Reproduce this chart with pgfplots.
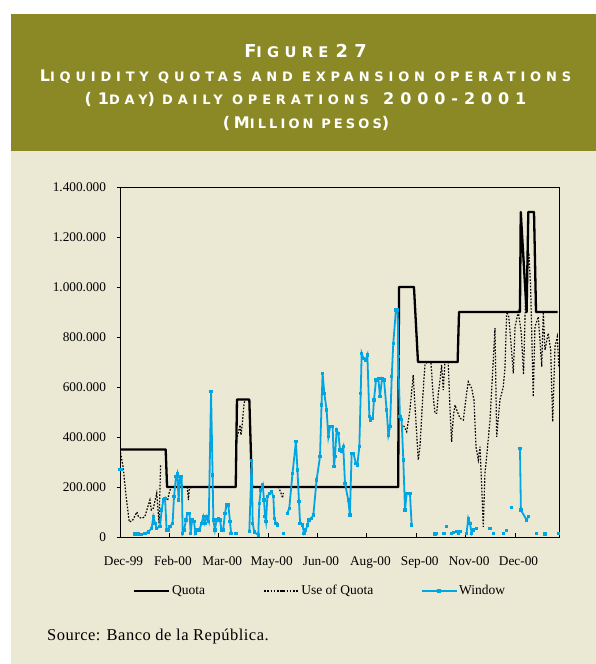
\documentclass[border=0pt]{standalone}
\usepackage{fontspec}
\setmainfont{Liberation Serif}
\newfontfamily\titlefont{DejaVu Sans}
\usepackage{pgfplots}
\pgfplotsset{compat=1.18}

\definecolor{header}{RGB}{139,137,38}
\definecolor{paper}{RGB}{235,232,212}
\definecolor{window}{RGB}{0,166,228}

% fake small caps for the title
\newcommand\Bg[1]{{\fontsize{\bigsz}{\bigsz}\selectfont #1}}
\newcommand\Sm[1]{{\fontsize{\smsz}{\smsz}\selectfont #1}}

\begin{document}
\begin{tikzpicture}[x=1bp,y=1bp]
\fill[white] (0,0) rectangle (596,664);
\fill[paper] (10.6,0) rectangle (596,513.3);
\fill[header] (10.6,513.3) rectangle (596,650);
\path[use as bounding box] (0,0) rectangle (596,664);

% title
\begin{scope}[every node/.style={anchor=base, text=white, inner sep=0pt}]
\def\bigsz{17.8bp}\def\smsz{14.7bp}
\node at (305.5,606.7) {\titlefont\bfseries\addfontfeature{LetterSpace=36}\Bg{F}\Sm{IGURE} \Bg{27}};
\def\bigsz{16bp}\def\smsz{13bp}
\node at (305.5,582.3) {\titlefont\bfseries\addfontfeature{LetterSpace=37}\Bg{L}\Sm{IQUIDITY QUOTAS AND EXPANSION OPERATIONS}};
\node at (305.5,559.7) {\titlefont\bfseries\addfontfeature{LetterSpace=37}\Bg{(1}\Sm{DAY}\Bg{)} \Sm{DAILY OPERATIONS}\ \ \Bg{2000-2001}};
\node at (306,535.7) {\titlefont\bfseries\addfontfeature{LetterSpace=24}\Bg{(M}\Sm{ILLION PESOS}\Bg{)}};
\end{scope}

\node[anchor=base west, inner sep=0pt] at (47,23)
  {\addfontfeature{LetterSpace=3}\fontsize{16.5bp}{18bp}\selectfont Source: Banco de la República.};

\begin{axis}[
  at={(120bp,127bp)}, anchor=south west,
  width=439bp, height=350bp, scale only axis,
  xmin=0, xmax=284.5, ymin=0, ymax=1400000,
  xtick={0,32,64,96,128,160,192,224,256},
  xticklabels={Dec-99,Feb-00,Mar-00,May-00,Jun-00,Aug-00,Sep-00,Nov-00,Dec-00},
  ytick={0,200000,400000,600000,800000,1000000,1200000,1400000},
  scaled y ticks=false,
  yticklabel style={/pgf/number format/fixed, /pgf/number format/1000 sep={.},
    /pgf/number format/assume math mode=true, xshift=-7bp},
  ticklabel style={font=\fontsize{13.3bp}{15bp}\selectfont},
  xticklabel style={yshift=-16bp, xshift=3.5bp},
  xtick align=inside, ytick align=outside,
  xtick pos=bottom, ytick pos=left,
  major tick length=3.5bp,
  axis line style={line width=0.9bp},
  tick style={line width=0.9bp, black},
  unbounded coords=jump,
  legend columns=3,
  legend image code/.code={\draw[mark repeat=2,mark phase=2,#1] plot coordinates {(0bp,0bp)(17.5bp,0bp)(35bp,0bp)};},
  legend style={at={(0.023,-0.154)}, anchor=west, draw=none, fill=none,
    font=\fontsize{13.5bp}{15bp}\selectfont,
    nodes={inner sep=1.5bp},
    /tikz/every even column/.append style={column sep=46bp}},
]

% Quota
\addplot[black, line width=2.3bp, line join=round] coordinates {
(0,350000)(29.6,350000)(30.5,200000)(75,200000)(75.8,550000)(83.8,550000)
(85.5,200000)(180.3,200000)(180.8,1000000)(190.5,1000000)(193.1,700000)
(218.8,700000)(219.7,900000)(259.2,900000)(259.7,1300000)(263.5,900000)
(264.6,1300000)(268.3,1300000)(269.6,900000)(283.6,900000)
};
\addlegendentry{\makebox[44bp][l]{Quota}}

% Use of Quota
\addplot[black, line width=1.2bp, dash pattern=on 1.6bp off 1.6bp] coordinates {
(0,350000)(2,280000)(4,160000)(6,60000)(8,65000)(11,100000)(12,80000)(14,75000)
(16,80000)(17,100000)(19.4,148000)(20.3,108000)(21.6,115000)(23.8,175000)
(25.3,55000)(26.3,284000)(27.7,284000)(28.5,nan)
(30.9,148000)(32,181000)(33.5,204000)(34,nan)
(43.6,200000)(44.3,148000)(45,196000)(47.5,200000)(48,nan)
(76,401000)(77.8,448000)(78.4,408000)(79.3,455000)(80.4,535000)(81.1,548000)(82,nan)
(102.6,201000)(104,181000)(105.4,156000)(105.8,176000)(106.5,nan)
(182.5,441000)(183.6,448000)(185.8,421000)(187.9,508000)(190,648000)(191.2,521000)
(193.3,308000)(194.4,361000)(196.1,548000)(197.6,688000)(199.1,700000)(201.5,700000)
(203,560000)(204.1,495000)(205.2,495000)(206.3,575000)(207.4,628000)(208.4,688000)
(209.5,588000)(210.6,700000)(212.7,700000)(213.8,521000)(214.9,381000)(216,481000)
(217.1,528000)(218.2,508000)(220.3,475000)(222.5,468000)(224.6,575000)(225.7,621000)
(227.9,595000)(229.4,548000)(230.7,361000)(232.2,308000)(233.3,361000)(234.4,201000)
(235.4,41000)(236.5,255000)(237.6,321000)(239.8,468000)(243,835000)(244.1,401000)
(246.2,548000)(248.4,601000)(249.5,681000)(250.6,901000)(252,880000)(254.9,655000)
(256,841000)(258.1,900000)(260,820000)(261.5,650000)(263,1000000)(265,1135000)
(266.1,1000000)(267.8,561000)(268.9,841000)(271.1,881000)(273.3,681000)(274.3,900000)
(275.4,748000)(277.5,815000)(279.1,748000)(280.4,461000)(281.9,761000)(283.4,801000)
(284.4,681000)
};
\addlegendentry{Use of Quota}

% Window
\addplot[window, line width=1.8bp, mark=square*, mark size=0.8bp, mark options={solid}] coordinates {
(0,270000)(1,270000)(2,nan)
(9.7,12000)(11.9,12000)(14,10000)(16.2,15000)(18.4,20000)(20.5,35000)(21.6,81000)
(22.7,55000)(23.8,35000)(25.9,41000)(27,108000)(28.1,148000)(29.2,155000)(30.2,28000)
(31.3,28000)(32.4,41000)(34.1,55000)(35,161000)(36.3,241000)(37.1,255000)(38,148000)
(38.9,241000)(40,241000)(40.6,15000)(41.5,28000)(42.8,68000)(43.6,95000)(45,95000)
(45.8,15000)(46.7,68000)(48,61000)(48.8,15000)(50,28000)(51.4,28000)(52.9,55000)
(54,81000)(55,55000)(56.2,81000)(57.5,61000)(59,581000)(60,248000)(60.5,68000)
(61.5,28000)(62.6,68000)(63.7,75000)(64.8,68000)(65.8,28000)(66.9,28000)(68,95000)
(69.1,128000)(70.2,128000)(71.3,61000)(72,15000)(73,nan)
(75.2,15000)(76,nan)
(83.8,21000)(85.3,305000)(86,55000)(87,20000)(89.6,8000)(90.3,135000)(91.2,188000)
(92.5,208000)(93.3,148000)(94,83000)(94.6,61000)(95.5,161000)(96.8,175000)(98.3,181000)
(99.4,161000)(100,75000)(101.1,55000)(102.2,48000)(103,nan)
(105.8,15000)(106.5,nan)
(108.4,95000)(109.7,115000)(111.8,255000)(114,381000)(115,268000)(116,141000)
(116.7,55000)(118.2,48000)(119.3,15000)(120.4,28000)(121.5,48000)(122.6,68000)
(124,75000)(125.3,88000)(127.4,228000)(129.6,321000)(130.6,528000)(131.3,655000)
(132.4,575000)(133.9,508000)(135,401000)(136.1,441000)(137.8,441000)(138.7,281000)
(139.3,321000)(140.4,428000)(141.5,415000)(142.6,348000)(143.6,341000)(144.7,361000)
(145.8,215000)(147.9,148000)(149,88000)(150.1,335000)(151.2,335000)(152.9,295000)
(153.8,288000)(155.1,361000)(156,575000)(156.6,735000)(157.7,715000)(159.2,708000)
(160.3,728000)(161.6,481000)(162.5,468000)(163.8,475000)(164.6,548000)(165.9,628000)
(167.4,635000)(168.5,561000)(169.8,635000)(171.1,628000)(172.8,508000)(173.9,408000)
(175,441000)(176.1,641000)(177.1,775000)(178.8,908000)(180,908000)(180.3,721000)
(181.4,481000)(182.5,470000)(183.6,308000)(184.7,108000)(185.8,175000)(187.9,175000)
(189,48000)(190,nan)
(204.1,12000)(205.2,15000)(206,nan)
(210,15000)(211,nan)(211.7,41000)(212.5,nan)
(214.9,15000)(216,18000)(217,nan)
(218.2,21000)(219.2,15000)(220.3,21000)(221,nan)
(224.6,15000)(225.7,75000)(226.8,55000)(227.9,15000)(228.9,28000)(230,nan)
(231.1,35000)(232,nan)(239.8,35000)(240.5,nan)(241.9,15000)(243,nan)
(248.4,15000)(249.5,nan)(250.6,25000)(251.5,nan)(253.8,118000)(255,nan)
(259.2,355000)(259.8,108000)(263.5,68000)(264.6,81000)(265.5,nan)
(270,15000)(271,nan)(275.4,12000)(276,nan)(284,15000)
};
\addlegendentry{Window}

\end{axis}
\end{tikzpicture}
\end{document}
